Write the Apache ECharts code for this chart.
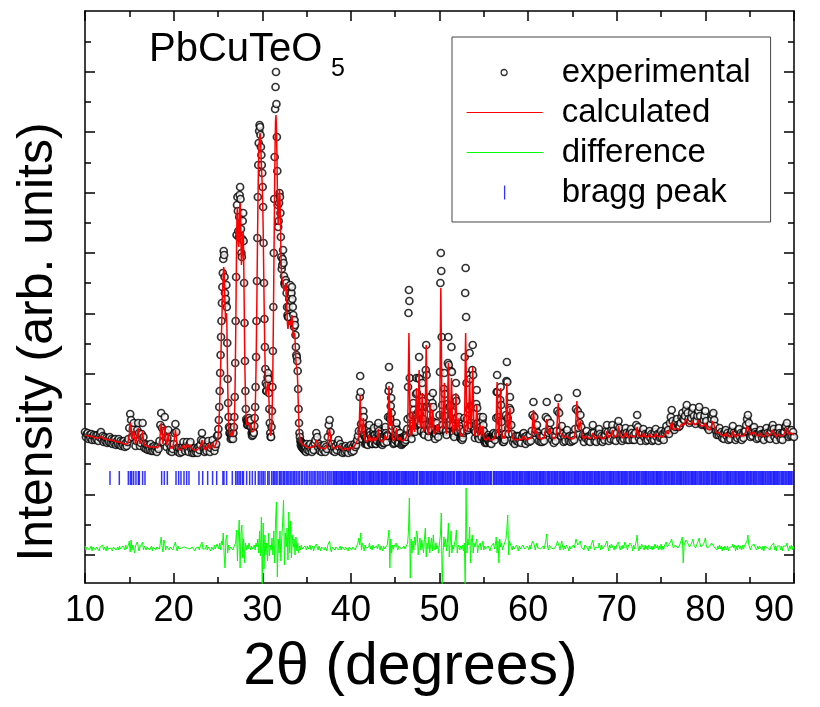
<!DOCTYPE html>
<html>
<head>
<meta charset="utf-8">
<script src="https://cdn.jsdelivr.net/npm/echarts@6/dist/echarts.min.js"></script>
<style>
  html, body { margin: 0; padding: 0; background: #fff; }
  #chart { width: 820px; height: 707px; }
</style>
</head>
<body>
<div id="chart"></div>
<script>
// PbCuTeO5 powder diffraction: observed profile, Rietveld fit, difference and reflection markers.
// Profiles are stored on regular 2θ grids (start, step, intensities in arbitrary units).

// 10.0 – 24.9°, step 0.1
const obsA = [
  151,146,149,150,144,148,145,149,143,147,
  148,143,147,144,148,142,146,149,151,144,
  147,141,146,142,145,140,144,141,146,140,
  144,139,143,140,144,138,142,139,144,138,
  142,137,141,138,142,136,140,137,141,144,
  155,169,163,146,154,160,148,137,142,153,
  160,150,137,140,149,160,146,135,139,134,
  138,133,137,133,139,132,136,132,137,133,
  136,131,136,134,142,158,170,155,141,152,
  166,151,136,145,153,139,132,136,131,134,
  139,150,159,151,135,131,135,130,134,131,
  136,141,135,132,137,141,133,131,139,141,
  134,130,134,130,135,131,134,130,136,133,
  138,143,150,142,134,131,135,132,138,142,
  136,131,135,138,143,137,132,136,139,147
];
const calcA = [
  148,148,148,147,147,147,147,146,146,146,
  146,146,145,145,145,145,145,146,147,146,
  145,144,144,144,144,143,143,143,144,143,
  143,142,142,142,142,141,141,141,142,141,
  141,140,140,140,140,139,139,139,139,141,
  148,160,156,144,148,153,145,139,140,147,
  155,146,139,138,144,152,143,138,137,137,
  137,136,136,136,137,136,136,135,135,136,
  135,135,135,136,139,150,160,148,139,146,
  157,147,138,142,150,141,135,134,134,135,
  137,145,153,147,137,134,134,133,133,134,
  135,138,137,134,135,139,136,134,136,138,
  135,133,133,133,134,133,133,133,134,135,
  136,139,143,140,136,134,133,134,136,139,
  137,134,134,136,140,138,135,135,137,142
];

// 25.00 – 34.95°, step 0.05
const obsB = [
  148,154,163,176,192,210,228,246,262,280,
  296,310,324,332,328,306,290,280,284,298,
  276,240,204,180,166,156,150,155,149,144,
  148,145,153,149,144,150,156,166,186,220,
  262,306,348,378,386,372,352,346,366,388,
  396,384,354,330,326,344,362,370,342,300,
  260,222,192,174,164,162,158,163,158,161,
  165,162,157,160,163,156,150,147,152,148,
  151,150,157,165,176,196,226,262,302,345,
  386,418,440,452,458,456,448,436,428,418,
  410,396,376,340,300,264,236,214,200,192,
  192,198,206,210,204,190,174,160,150,146,
  146,156,172,196,232,276,330,384,426,474,
  496,511,479,446,412,378,356,362,380,390,
  386,370,346,326,314,318,324,333,320,307,
  300,298,302,303,300,290,276,268,266,266,
  276,284,290,298,288,282,290,296,284,276,
  268,262,256,263,258,248,236,228,226,222,
  212,194,174,160,150,146,142,138,141,136,
  140,135,139,134,138,133,137,132,136,131
];
const calcB = [
  145,150,158,168,180,196,214,232,250,266,
  282,296,308,316,312,296,278,265,262,270,
  262,232,200,176,162,154,150,152,150,147,
  146,148,152,150,147,148,153,162,178,205,
  245,290,335,368,376,360,340,336,352,372,
  380,368,340,318,316,330,348,352,330,290,
  246,212,186,170,162,158,157,158,156,158,
  160,158,155,156,158,155,151,150,152,151,
  150,152,156,162,172,190,216,250,288,330,
  370,404,428,440,446,450,446,432,418,408,
  398,380,356,322,286,254,228,208,196,188,
  186,190,196,200,196,185,170,158,150,147,
  148,154,166,186,216,256,304,352,398,438,
  462,468,456,430,398,370,358,366,384,393,
  386,362,336,316,306,304,302,300,296,292,
  290,292,296,300,296,284,268,258,254,258,
  262,264,262,258,256,258,264,268,264,254,
  246,244,248,250,244,232,222,218,216,212,
  200,184,168,156,148,144,142,141,140,140,
  139,139,138,138,139,138,137,137,137,136
];

// 35.0 – 40.9°, step 0.1
const obsC = [
  139,133,137,132,139,134,131,137,133,140,
  143,150,146,136,139,132,137,131,136,133,
  138,131,136,134,146,158,163,151,136,139,
  132,136,131,137,133,140,143,136,139,131,
  136,130,135,131,137,132,135,130,136,134,
  138,131,136,132,139,136,138,143,147,152
];
const calcC = [
  136,136,135,136,137,136,135,135,136,138,
  140,143,142,138,136,135,135,134,135,136,
  135,134,135,137,142,150,154,147,139,136,
  135,134,134,135,136,137,139,138,136,134,
  134,133,133,134,135,134,133,133,134,136,
  135,134,134,135,137,139,140,141,144,147
];

// 41.00 – 57.95°, step 0.05
const obsD = [
  186,207,191,159,152,144,154,161,172,166,
  148,147,139,145,140,146,139,143,138,146,
  144,155,158,151,148,140,145,139,144,139,
  148,152,155,148,148,139,145,139,143,142,
  150,156,160,152,149,140,145,140,146,139,
  144,138,145,140,145,140,148,153,156,150,
  147,141,148,147,166,192,216,197,166,164,
  177,185,170,157,143,146,139,145,140,146,
  143,149,156,160,153,148,140,145,140,146,
  149,150,145,145,138,144,139,145,140,146,
  141,147,141,146,143,148,146,154,164,196,
  270,293,282,205,166,150,149,144,151,157,
  168,180,173,155,153,151,167,189,205,190,
  165,162,171,205,226,204,169,159,152,164,
  185,200,182,164,149,152,148,158,176,213,
  238,208,176,153,153,146,152,159,176,186,
  174,162,153,162,180,190,176,161,147,150,
  144,150,149,158,160,154,152,146,153,155,
  168,211,300,330,312,246,178,158,153,167,
  194,210,189,167,151,152,148,158,179,220,
  246,218,176,162,158,177,212,236,211,171,
  157,148,150,146,154,164,185,200,182,165,
  151,153,151,162,166,157,154,145,150,144,
  148,143,148,145,150,152,165,226,290,315,
  266,200,164,153,153,155,174,208,230,204,
  177,160,157,177,213,238,208,176,153,153,
  145,151,159,179,193,175,160,146,149,144,
  153,160,166,156,153,146,153,163,166,158,
  152,142,145,140,146,141,145,140,146,144,
  148,142,146,140,145,140,145,139,146,145,
  147,149,150,147,146,143,148,149,165,191,
  208,191,166,149,150,148,162,183,196,178,
  161,146,148,141,146,141,146,143,149,149,
  168,202,221,201,165,155,149,159,175,186
];
const calcD = [
  174,188,174,156,148,146,149,158,165,158,
  149,144,143,142,142,142,141,141,142,143,
  144,148,150,148,144,143,142,141,141,142,
  143,146,148,146,144,142,141,141,141,143,
  146,150,154,150,146,143,142,141,141,141,
  141,141,142,141,142,143,144,148,150,148,
  144,144,144,147,158,180,197,181,161,157,
  167,175,165,152,145,143,142,142,142,143,
  143,146,151,155,151,146,143,142,142,143,
  145,146,145,143,142,142,142,142,142,143,
  143,144,144,144,145,145,147,150,156,177,
  219,250,219,177,156,150,147,147,149,154,
  164,172,164,155,151,152,161,180,195,181,
  164,158,168,193,213,193,167,155,153,159,
  177,190,177,159,151,149,150,155,174,210,
  238,210,174,155,151,148,149,156,170,180,
  171,157,152,155,165,173,165,154,149,147,
  147,147,150,154,158,154,150,148,149,152,
  161,191,250,295,250,192,163,154,152,162,
  184,200,184,162,152,150,149,153,168,198,
  220,199,170,155,155,165,187,205,187,164,
  152,149,148,148,150,159,177,190,177,160,
  151,150,152,159,165,159,152,148,147,146,
  146,146,146,147,147,150,156,177,219,250,
  219,177,157,151,149,152,164,187,205,188,
  165,155,155,168,195,216,195,167,154,150,
  147,147,154,168,178,168,154,147,146,145,
  148,154,158,155,149,146,148,153,157,153,
  147,144,143,143,143,143,143,143,144,145,
  146,145,144,143,143,142,142,142,143,143,
  144,145,145,144,143,143,145,149,160,184,
  201,184,160,150,147,149,159,179,195,179,
  159,148,145,144,143,143,144,145,145,149,
  160,183,200,183,161,150,148,153,165,175
];

// 58.0 – 90.0°, step 0.1
const obsE = [
  173,158,149,141,144,139,147,142,147,141,
  147,142,140,146,149,150,146,139,147,142,
  146,141,148,142,152,168,181,166,150,153,
  158,150,142,147,141,146,141,147,142,151,
  166,181,164,150,153,160,151,143,147,140,
  146,142,152,172,185,170,152,147,157,149,
  141,146,142,149,153,146,142,147,141,146,
  142,147,143,154,174,190,172,155,160,168,
  156,145,148,141,147,145,152,146,142,147,
  141,147,150,158,150,142,146,141,148,150,
  154,149,142,147,141,146,143,148,152,158,
  151,142,147,144,153,158,152,143,148,142,
  150,157,162,155,144,148,142,148,144,151,
  155,150,143,148,143,151,154,150,143,148,
  143,150,158,168,156,145,148,142,149,150,
  154,146,149,142,148,143,150,152,145,149,
  142,148,143,151,154,146,149,142,149,145,
  152,145,149,143,150,152,157,151,153,149,
  160,166,173,162,155,153,156,161,164,158,
  156,157,160,166,170,164,163,167,173,178,
  170,164,160,162,165,170,175,167,162,159,
  162,167,172,176,167,160,158,159,163,167,
  172,162,156,155,153,157,159,164,168,170,
  163,157,152,148,152,148,155,149,151,145,
  149,144,151,153,147,150,143,148,144,150,
  152,157,150,148,143,149,145,153,154,146,
  150,143,149,145,151,152,158,164,168,160,
  153,146,151,147,155,156,151,149,144,149,
  145,151,153,149,145,149,143,150,151,155,
  150,145,149,144,152,155,158,154,146,150,
  143,150,148,155,150,144,149,143,150,151,
  156,157,160,153,146,151,147,153,147,151,
  146
];
const calcE = [
  165,153,146,144,143,143,143,144,145,144,
  143,143,143,144,146,147,145,143,143,144,
  144,144,144,145,148,160,173,160,149,149,
  152,148,145,144,144,144,144,144,145,147,
  155,164,155,149,150,154,150,146,144,144,
  144,145,149,164,180,164,150,149,152,148,
  145,144,145,147,149,147,145,144,144,144,
  144,144,145,150,165,182,165,153,155,162,
  154,147,145,144,145,147,149,147,145,144,
  144,145,147,150,147,145,144,144,145,147,
  149,147,145,144,144,144,145,145,148,152,
  148,145,145,146,149,153,149,146,145,145,
  147,152,157,152,147,145,145,145,146,148,
  151,148,146,145,146,148,150,148,146,145,
  146,147,151,156,151,147,145,145,146,148,
  150,148,146,145,145,146,147,149,147,146,
  145,145,146,148,150,148,146,145,146,147,
  149,147,146,146,147,149,152,150,149,150,
  154,158,161,157,153,151,152,155,157,155,
  153,153,155,159,161,159,158,160,164,166,
  163,159,157,157,159,162,163,161,158,157,
  157,160,163,164,161,157,155,155,157,159,
  160,157,154,152,152,153,155,158,162,164,
  160,155,151,149,149,150,151,150,148,147,
  146,147,148,150,148,147,146,146,146,147,
  149,152,149,147,146,146,147,149,150,148,
  147,146,146,147,148,150,153,157,158,155,
  151,148,148,149,151,152,150,148,147,146,
  147,148,150,148,147,146,146,147,149,151,
  149,147,146,147,149,153,155,152,149,147,
  146,147,149,151,149,147,146,146,147,149,
  152,154,155,152,149,148,149,150,149,148,
  148
];

// Difference curve (observed − calculated, shifted below the pattern), 10.0 – 90.0°, step 0.1
const diffValues = [
  37,33,36,34,38,33,35,37,32,36,
  35,38,33,36,34,37,32,36,34,35,
  38,33,36,35,32,37,34,36,33,35,
  37,32,36,34,38,33,35,36,33,37,
  34,36,32,37,35,33,38,34,36,38,
  42,31,43,33,38,40,30,37,36,41,
  40,32,36,34,38,41,33,37,35,33,
  36,34,38,33,35,37,32,36,34,37,
  33,36,35,38,34,40,46,36,31,43,
  40,33,37,35,39,33,36,34,37,33,
  36,38,41,35,32,37,34,36,33,35,
  37,33,36,34,38,35,33,37,34,36,
  33,36,34,38,32,35,37,34,36,33,
  37,35,41,34,32,36,34,38,33,36,
  34,37,32,36,35,33,38,34,36,39,
  37,34,40,33,42,38,50,28,15,44,
  48,30,38,33,36,34,37,33,36,35,
  40,53,22,46,63,15,48,58,25,44,
  20,40,33,38,34,40,36,33,37,34,
  36,38,33,40,36,44,30,52,27,66,
  -3,60,14,48,28,40,22,50,27,38,
  33,45,28,52,20,62,81,6,44,30,
  52,22,45,60,83,18,50,36,55,23,
  71,30,62,25,48,36,44,28,46,32,
  40,30,37,33,38,34,36,32,37,35,
  33,37,34,36,38,33,35,37,32,36,
  34,39,36,33,37,35,32,36,34,37,
  33,36,35,32,38,39,42,34,31,36,
  35,37,33,36,34,38,33,35,37,33,
  36,34,38,33,36,35,37,32,36,34,
  37,33,36,35,38,33,36,34,40,45,
  38,50,33,40,36,32,38,35,37,33,
  36,40,34,37,33,38,35,36,33,37,
  34,39,36,33,37,35,32,37,34,36,
  33,38,45,53,15,44,30,38,34,37,
  35,40,36,33,37,35,38,34,36,33,
  37,34,36,33,40,52,85,5,44,30,
  42,33,46,38,52,48,28,40,45,33,
  43,36,30,44,55,26,40,34,46,30,
  38,45,32,48,36,33,40,34,37,30,
  40,48,70,-4,30,46,36,44,32,42,
  60,26,40,52,30,38,34,40,44,53,
  30,38,36,33,37,34,38,32,40,-2,
  95,30,44,38,56,20,42,48,30,40,
  36,40,44,30,37,35,40,33,38,42,
  33,37,34,36,33,37,35,32,36,34,
  37,40,34,38,46,30,42,20,44,36,
  40,33,36,34,38,44,54,68,28,42,
  44,36,33,37,34,36,33,38,35,32,
  37,34,36,33,38,40,34,36,33,37,
  35,33,38,34,39,42,44,38,33,37,
  40,35,33,37,34,36,32,37,34,38,
  43,49,36,33,38,40,35,33,37,34,
  36,33,38,42,40,37,33,38,42,36,
  33,37,34,38,39,35,32,37,34,36,
  33,38,35,39,44,42,38,37,40,42,
  36,34,37,33,38,36,39,35,32,37,
  34,38,36,43,37,33,36,34,38,35,
  40,37,33,38,34,36,35,38,39,42,
  36,32,38,35,39,40,37,33,37,34,
  38,40,41,36,33,37,34,38,35,41,
  40,37,33,37,35,40,39,37,32,38,
  34,38,42,48,36,32,37,34,39,37,
  40,33,38,34,37,33,38,40,34,37,
  33,37,34,39,40,35,38,33,37,34,
  39,33,37,34,38,39,41,36,38,34,
  40,42,44,38,35,36,38,40,37,35,
  37,38,36,40,46,20,38,40,43,44,
  40,38,36,38,39,41,44,38,37,35,
  38,40,42,45,39,36,37,35,39,41,
  45,38,35,37,34,37,38,40,39,41,
  36,35,34,33,37,34,38,34,37,32,
  36,33,37,38,33,37,32,36,34,37,
  36,39,35,38,32,37,33,38,39,34,
  37,33,38,34,37,36,39,42,48,38,
  36,33,37,35,38,39,36,37,33,37,
  34,37,38,36,33,37,32,37,36,38,
  35,33,37,33,37,36,38,40,33,37,
  32,37,35,38,37,33,37,32,37,36,
  38,37,40,35,32,37,34,38,33,37,
  34
];

// Reflection positions (2θ, degrees)
const braggPositions = [
  12.82, 13.87, 14.89, 15.12, 15.27, 15.49, 15.75, 16.02, 16.13, 16.50, 16.77,
  18.65, 18.95, 19.29, 20.27, 20.57, 20.83, 21.17, 21.47, 21.73, 22.86, 23.28,
  23.84, 24.40, 24.86, 25.56, 25.68, 25.98, 26.62, 27.00, 27.18, 27.37, 27.52,
  27.75, 27.88, 28.24, 28.58, 28.88, 29.21, 29.56, 29.74, 29.95, 30.12, 30.31,
  30.62, 30.78,
  31.06, 31.24, 31.38, 31.55, 31.68, 31.92, 32.05, 32.21, 32.40, 32.52, 32.71,
  32.88, 33.02, 33.21, 33.36, 33.55, 33.68, 33.86, 34.05, 34.22, 34.44, 34.58,
  34.80, 34.97, 35.14, 35.35, 35.52, 35.71, 35.88, 36.05, 36.26, 36.42, 36.61,
  36.80, 36.96, 37.15, 37.34, 37.52, 37.66, 37.85,
  38.03, 38.15, 38.30, 38.41, 38.55, 38.68, 38.84, 38.96, 39.09, 39.24, 39.35,
  39.47, 39.62, 39.73, 39.87, 40.00, 40.16, 40.28, 40.41, 40.56, 40.67,
  40.89, 41.01, 41.16, 41.27, 41.41, 41.54, 41.70, 41.82, 41.95, 42.10,
  42.21, 42.33, 42.48, 42.59, 42.73, 42.86, 43.02, 43.14, 43.27, 43.42, 43.53,
  43.65, 43.80, 43.91, 44.05, 44.18, 44.34, 44.46, 44.59, 44.74, 44.85,
  44.97, 45.12, 45.23, 45.37, 45.50, 45.66, 45.78, 45.91, 46.06, 46.17,
  46.29, 46.44, 46.55, 46.69, 46.82, 46.98, 47.10, 47.23, 47.38, 47.49,
  47.71, 47.83, 47.98, 48.09, 48.23, 48.36, 48.52, 48.64, 48.77, 48.92,
  49.03, 49.15, 49.30, 49.41, 49.55, 49.68, 49.84, 49.96, 50.09, 50.24,
  50.35, 50.47, 50.62, 50.73, 50.87, 51.00, 51.16, 51.28, 51.41, 51.56,
  51.67, 51.89, 52.01, 52.16, 52.27, 52.41, 52.54, 52.70, 52.82, 52.95,
  53.10, 53.21, 53.33, 53.48, 53.59, 53.73, 53.86, 54.02, 54.14, 54.27,
  54.42, 54.53, 54.65, 54.80, 54.91, 55.05, 55.18, 55.34, 55.46, 55.59,
  55.74, 55.85, 56.09, 56.21, 56.36, 56.47, 56.61, 56.74, 56.90, 57.02,
  57.15, 57.30, 57.41, 57.53, 57.68, 57.79, 57.93, 58.06, 58.22, 58.34,
  58.47, 58.62, 58.73, 58.85, 59.00, 59.11, 59.25, 59.38, 59.54, 59.66,
  59.79, 59.94, 60.05, 60.17, 60.32, 60.43, 60.57, 60.70, 60.86, 60.98,
  61.11, 61.26, 61.37, 61.49, 61.64, 61.75, 61.89, 62.02, 62.18, 62.30,
  62.43, 62.58, 62.69, 62.81, 62.96, 63.07, 63.21, 63.34, 63.50, 63.62,
  63.75, 63.90, 64.01, 64.13, 64.28, 64.39, 64.53, 64.66, 64.82, 64.94,
  65.07, 65.22, 65.33, 65.45, 65.60, 65.71, 65.85, 65.98, 66.14, 66.26,
  66.39, 66.54, 66.65, 66.77, 66.92, 67.03, 67.17, 67.30, 67.46, 67.58,
  67.71, 67.86, 67.97, 68.09, 68.24, 68.35, 68.49, 68.62, 68.78, 68.90,
  69.03, 69.18, 69.29, 69.41, 69.56, 69.67, 69.81, 69.94, 70.10, 70.22,
  70.35, 70.50, 70.61, 70.73, 70.88, 70.99, 71.13, 71.26, 71.42, 71.54,
  71.67, 71.82, 71.93, 72.05, 72.20, 72.31, 72.45, 72.58, 72.74, 72.86,
  72.99, 73.14, 73.25, 73.37, 73.52, 73.63, 73.77, 73.90, 74.06, 74.18,
  74.31, 74.46, 74.57, 74.69, 74.84, 74.95, 75.09, 75.22, 75.38, 75.50,
  75.63, 75.78, 75.89, 76.01, 76.16, 76.27, 76.41, 76.54, 76.70, 76.82,
  76.95, 77.10, 77.21, 77.33, 77.48, 77.59, 77.73, 77.86, 78.02, 78.14,
  78.27, 78.42, 78.53, 78.65, 78.80, 78.91, 79.05, 79.18, 79.34, 79.46,
  79.59, 79.74, 79.85, 79.97, 80.12, 80.23, 80.37, 80.50, 80.66, 80.78,
  80.91, 81.06, 81.17, 81.29, 81.44, 81.55, 81.69, 81.82, 81.98, 82.10,
  82.23, 82.38, 82.49, 82.61, 82.76, 82.87, 83.01, 83.14, 83.30, 83.42,
  83.55, 83.70, 83.81, 83.93, 84.08, 84.19, 84.33, 84.46, 84.62, 84.74,
  84.87, 85.02, 85.13, 85.25, 85.40, 85.51, 85.65, 85.78, 85.94, 86.06,
  86.19, 86.34, 86.45, 86.57, 86.72, 86.83, 86.97, 87.10, 87.26, 87.38,
  87.51, 87.66, 87.77, 87.89, 88.04, 88.15, 88.29, 88.42, 88.58, 88.70,
  88.83, 88.98, 89.09, 89.21, 89.36, 89.47, 89.61, 89.74, 89.90
];
const braggLevel = 105;

// Axis ranges and tick values
const xRange = [10, 90];
const xStep = 10;
const yRange = [0, 572];
const yMajorTicks = [28, 88, 149, 209, 269, 330, 390, 451, 511];
const yMinorTicks = [58, 119, 179, 239, 300, 360, 420, 481, 541];

const compoundName = 'PbCuTeO';
const compoundSub = '5';
const xName = '2θ (degrees)';
const yName = 'Intensity (arb. units)';

// ---------------------------------------------------------------
const FONT = '"Liberation Sans", Arial, Helvetica, sans-serif';

function profile(start, step, values) {
  return values.map((v, i) => [Number((start + i * step).toFixed(2)), v]);
}

const observed = [].concat(
  profile(10, 0.1, obsA), profile(25, 0.05, obsB), profile(35, 0.1, obsC),
  profile(41, 0.05, obsD), profile(58, 0.1, obsE)
);
const calculated = [].concat(
  profile(10, 0.1, calcA), profile(25, 0.05, calcB), profile(35, 0.1, calcC),
  profile(41, 0.05, calcD), profile(58, 0.1, calcE)
);
const difference = profile(10, 0.1, diffValues);
const bragg = braggPositions.map(p => [p, braggLevel]);

const black = '#000';
const frameLine = { color: black, width: 1.5 };
const tickLabelStyle = { fontSize: 36, fontFamily: FONT, color: black };
const tickLabelMargin = 10;

function xAxisDef(position, withLabels) {
  return {
    type: 'value', position, min: xRange[0], max: xRange[1], interval: xStep,
    axisLine: { show: true, onZero: false, lineStyle: frameLine },
    axisTick: { show: true, inside: true, length: 10, lineStyle: frameLine },
    minorTick: { show: true, splitNumber: 2, length: 6, lineStyle: frameLine },
    splitLine: { show: false },
    // the last label is drawn separately, right-aligned to the frame edge
    axisLabel: withLabels
      ? Object.assign({ show: true, margin: tickLabelMargin, showMaxLabel: false }, tickLabelStyle)
      : { show: false }
  };
}

function yAxisDef(position, ticks, len, showLine) {
  return {
    type: 'value', position, min: yRange[0], max: yRange[1],
    axisLine: { show: showLine, onZero: false, lineStyle: frameLine },
    axisTick: { show: true, inside: true, length: len, customValues: ticks, lineStyle: frameLine },
    splitLine: { show: false },
    axisLabel: { show: false }
  };
}

const xBottom = Object.assign(xAxisDef('bottom', true), {
  name: xName, nameLocation: 'middle', nameGap: 55,
  nameTextStyle: { color: black, fontSize: 59, fontFamily: FONT, padding: [0, 58, 0, 0] }
});
const yLeft = Object.assign(yAxisDef('left', yMajorTicks, 10, true), {
  name: yName, nameLocation: 'middle', nameGap: 22, nameRotate: 90,
  nameTextStyle: { color: black, fontSize: 50, fontFamily: FONT, padding: [0, 90, 0, 0] }
});

const titleGraphics = [
  {
    id: 'compound-name', type: 'text', x: 149, y: 30, silent: true,
    style: { text: compoundName, fontSize: 40, fontFamily: FONT, fill: black, verticalAlign: 'top' }
  },
  {
    id: 'compound-sub', type: 'text', x: 331, y: 57, silent: true,
    style: { text: compoundSub, fontSize: 25, fontFamily: FONT, fill: black, verticalAlign: 'top' }
  }
];

const chart = echarts.init(document.getElementById('chart'), null, { renderer: 'canvas' });

chart.setOption({
  animation: false,
  backgroundColor: '#fff',
  textStyle: { fontFamily: FONT },
  grid: { left: 85, right: 26, top: 11, bottom: 124, containLabel: false, outerBoundsMode: 'none' },
  graphic: titleGraphics,
  legend: {
    orient: 'vertical', left: 452, top: 37,
    padding: [16, 20, 10, 14], itemGap: 1,
    itemWidth: 90, itemHeight: 14,
    borderColor: '#444', borderWidth: 1, backgroundColor: '#fff',
    selectedMode: false,
    textStyle: { color: black, fontSize: 33, fontFamily: FONT, lineHeight: 39 },
    data: [
      { name: 'experimental', icon: 'path://M0,0M90,14M34.5,7a3,3 0 1,0 6,0a3,3 0 1,0 -6,0Z',
        itemStyle: { color: '#fff', borderColor: black, borderWidth: 1.3 } },
      { name: 'calculated', icon: 'path://M0,0M90,14M0,6.4H76V7.6H0Z' },
      { name: 'difference', icon: 'path://M0,0M90,14M0,6.5H76V7.5H0Z' },
      { name: 'bragg peak', icon: 'path://M0,0M90,14M37.3,0H38.6V14H37.3Z' }
    ]
  },
  xAxis: [xBottom, xAxisDef('top', false)],
  yAxis: [
    yLeft,
    yAxisDef('right', yMajorTicks, 10, true),
    yAxisDef('left', yMinorTicks, 6, false),
    yAxisDef('right', yMinorTicks, 6, false)
  ],
  series: [
    {
      name: 'bragg peak', type: 'scatter', data: bragg, silent: true, z: 1,
      symbol: 'rect', symbolSize: [1.5, 14],
      itemStyle: { color: '#0000ff' }
    },
    {
      name: 'experimental', type: 'scatter', data: observed, silent: true, z: 2,
      symbol: 'circle', symbolSize: 7,
      itemStyle: { color: '#fff', borderColor: black, borderWidth: 1.7 }
    },
    {
      name: 'calculated', type: 'line', data: calculated, silent: true, z: 3,
      symbol: 'none', showSymbol: false,
      itemStyle: { color: '#ff0000' },
      lineStyle: { color: '#ff0000', width: 1.5 }
    },
    {
      name: 'difference', type: 'line', data: difference, silent: true, z: 3,
      symbol: 'none', showSymbol: false,
      itemStyle: { color: '#00ff00' },
      lineStyle: { color: '#00ff00', width: 1 }
    }
  ]
});

// Last x tick label: placed from the axis scale, ending at the frame's right edge
const xEnd = chart.convertToPixel({ xAxisIndex: 0 }, xRange[1]);
const yBase = chart.convertToPixel({ yAxisIndex: 0 }, yRange[0]);
if (isFinite(xEnd) && isFinite(yBase)) {
  chart.setOption({
    graphic: titleGraphics.concat([{
      id: 'x-max-label', type: 'text', x: xEnd, y: yBase + tickLabelMargin, silent: true,
      style: {
        text: String(xRange[1]), fontSize: tickLabelStyle.fontSize, fontFamily: FONT,
        fill: black, align: 'right', verticalAlign: 'top'
      }
    }])
  });
}
</script>
</body>
</html>
